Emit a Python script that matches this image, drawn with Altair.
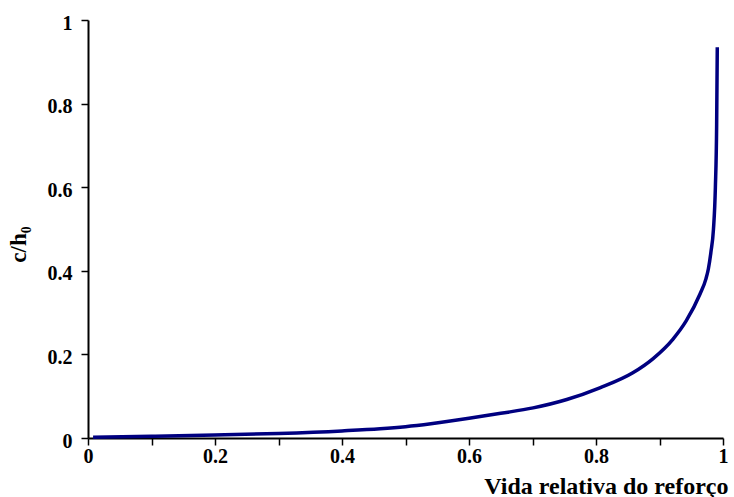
import altair as alt
import pandas as pd

vida = [0.008, 0.1, 0.2, 0.3, 0.4, 0.46, 0.5, 0.54, 0.6, 0.65, 0.701, 0.754, 0.806, 0.858,
        0.890, 0.921, 0.942, 0.964, 0.973, 0.977, 0.981, 0.985, 0.988, 0.990, 0.991]
ch0 = [0.002, 0.004, 0.007, 0.011, 0.017, 0.022, 0.027, 0.034, 0.047, 0.059, 0.072, 0.092,
       0.120, 0.156, 0.190, 0.236, 0.280, 0.345, 0.38, 0.405, 0.445, 0.50, 0.60, 0.75, 0.935]

df = pd.DataFrame({"x": vida, "y": ch0})

font = "Liberation Serif"

common = dict(grid=False, domainColor="black", tickColor="black", labelColor="black",
              titleColor="black", domainWidth=2, tickWidth=1.5, tickSize=7,
              labelFont=font, labelFontSize=20, labelFontWeight="bold",
              titleFont=font, titleFontWeight="bold",
              labelFlush=False, labelOverlap=False, format="~g")

chart = alt.Chart(df).mark_line(color="#000080", strokeWidth=3.5, interpolate="monotone").encode(
    x=alt.X("x:Q", scale=alt.Scale(domain=[0, 1], nice=False, zero=False),
            axis=alt.Axis(values=[0, 0.1, 0.2, 0.3, 0.4, 0.5, 0.6, 0.7, 0.8, 0.9, 1.0],
                          labelExpr="round(datum.value*10) % 2 == 0 ? datum.label : ''",
                          title="Vida relativa do reforço",
                          titleAlign="right", titleAnchor="end",
                          titleBaseline="alphabetic", titleX=640, titleY=55,
                          titleFontSize=24, labelPadding=1, **common)),
    y=alt.Y("y:Q", scale=alt.Scale(domain=[0, 1], nice=False, zero=False),
            axis=alt.Axis(values=[0, 0.2, 0.4, 0.6, 0.8, 1.0],
                          title="c/h₀", titleFontSize=23,
                          titleX=-70, titleY=224,
                          titleAngle=270, titleAlign="center", titleBaseline="middle",
                          labelPadding=9, labelOffset=3, **common)),
).properties(
    width=635, height=418,
    autosize=alt.AutoSizeParams(type="none"),
    padding={"left": 88, "top": 20, "right": 11, "bottom": 59},
    background="white",
).configure_view(stroke=None)

chart.save("out.html", embed_options={"renderer": "svg", "actions": False})
